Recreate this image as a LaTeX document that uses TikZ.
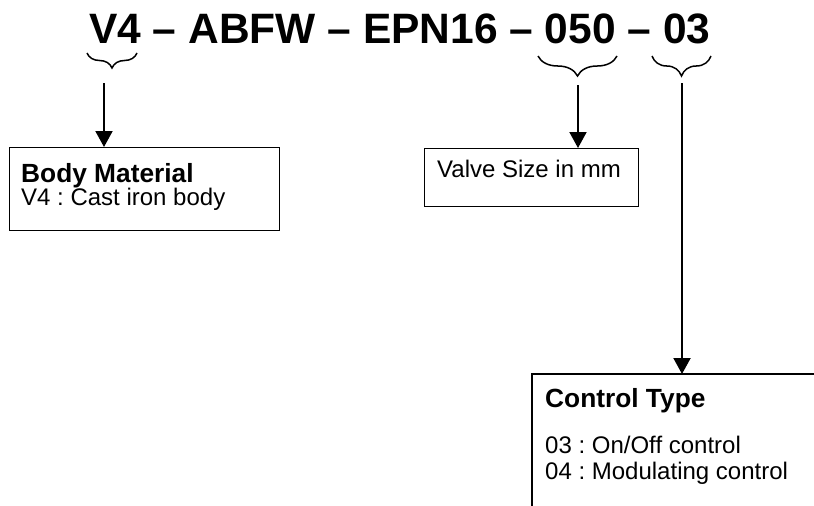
\documentclass[tikz,border=0pt]{standalone}
\usepackage{fontspec}
\setmainfont{Liberation Sans}
\usetikzlibrary{decorations.pathreplacing,arrows.meta}
\frenchspacing
\begin{document}
\begin{tikzpicture}[x=1pt,y=-1pt,
  box/.style={draw, line width=1.4pt, inner sep=0pt, anchor=north west},
  lbl/.style={anchor=base west, inner sep=0pt, font=\fontsize{24}{26}\selectfont},
  hdr/.style={anchor=base west, inner sep=0pt, font=\fontsize{26.3}{30}\selectfont\bfseries},
  brc/.style={decorate, decoration={brace, mirror, amplitude=#1}, line width=1.5pt},
  arr/.style={line width=2pt, -{Triangle[width=17pt,length=16pt]}},
]
\useasboundingbox (0,0) rectangle (814,506);

% product code
\node[anchor=base west, inner sep=0pt, font=\fontsize{42.5}{50}\selectfont\bfseries]
  (code) at (89,43) {V4 – ABFW – EPN16 – 050 – 03};

% braces under the code fields
\coordinate (b1l) at (87,53);  \coordinate (b1r) at (137,53);
\coordinate (b2l) at (538,56); \coordinate (b2r) at (617,56);
\coordinate (b3l) at (652,56); \coordinate (b3r) at (711,56);
\draw[brc=15pt] (b1l) -- (b1r);
\draw[brc=20pt] (b2l) -- (b2r);
\draw[brc=20pt] (b3l) -- (b3r);

% description boxes
\node[box, minimum width=270pt, minimum height=83pt] (body) at (9,147) {};
\node[hdr] (bodyhdr) at (21,182) {Body Material};
\node[lbl] (bodytxt) at (21,205) {V4 : Cast iron body};

\node[box, minimum width=214pt, minimum height=58pt] (valve) at (424,148) {};
\node[lbl] (valvetxt) at (437,177) {Valve Size in mm};

\coordinate (ctrl) at (532,374);
\draw[line width=1.4pt] (814,374) -- (ctrl) -- (532,506);
\node[hdr] (ctrlhdr) at (545,407) {Control Type};
\node[lbl] (ctrl1) at (545,453) {03 : On/Off control};
\node[lbl] (ctrl2) at (545,479) {04 : Modulating control};

% arrows
\coordinate (s1) at (104,83);
\coordinate (s2) at (578,85);
\coordinate (s3) at (682,83);
\draw[arr] (s1) -- (s1 |- body.north);
\draw[arr] (s2) -- (s2 |- valve.north);
\draw[arr] (s3) -- (s3 |- ctrl);
\end{tikzpicture}
\end{document}
